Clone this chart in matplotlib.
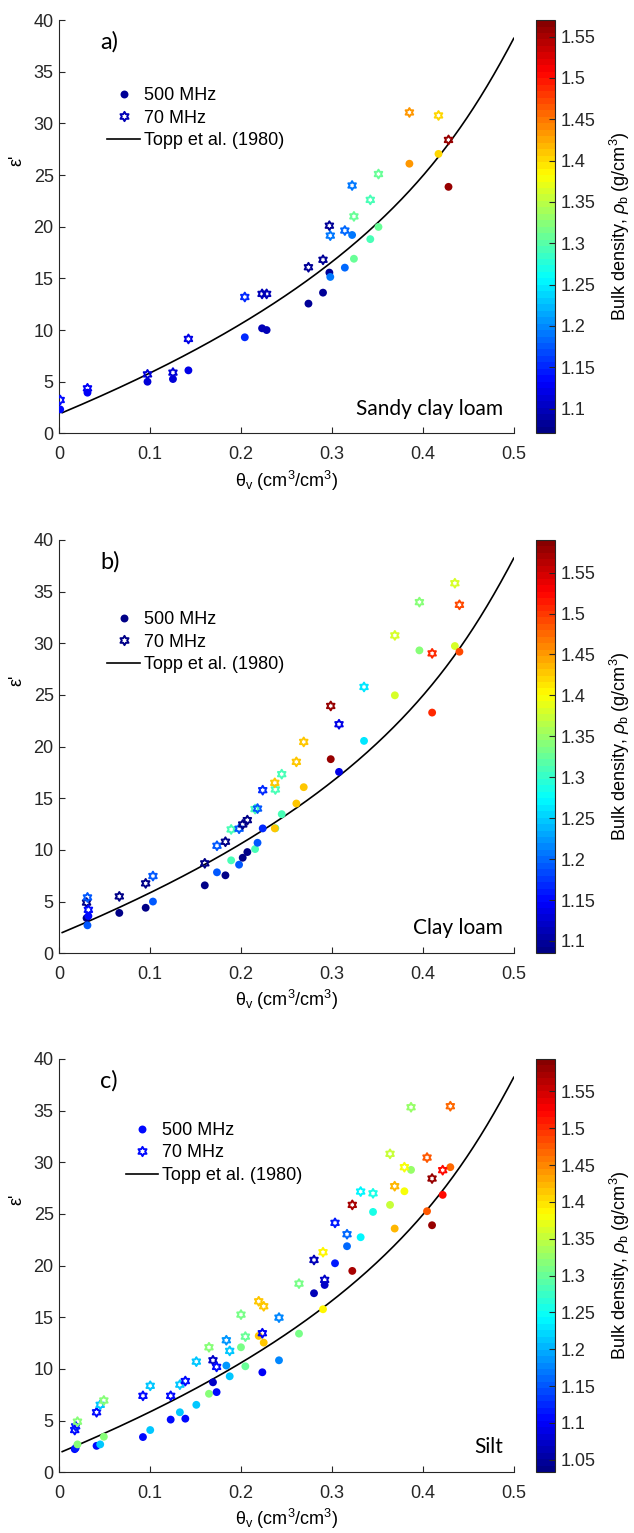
import numpy as np
import matplotlib
matplotlib.use('Agg')
import matplotlib.pyplot as plt
from matplotlib.path import Path
from matplotlib.lines import Line2D
from matplotlib.colors import Normalize, ListedColormap
from matplotlib.cm import ScalarMappable

plt.rcParams['font.family'] = ['Liberation Sans', 'DejaVu Sans']
plt.rcParams['mathtext.fontset'] = 'custom'
plt.rcParams['mathtext.rm'] = 'Liberation Sans'
plt.rcParams['mathtext.it'] = 'Liberation Sans:italic'

# ── a) Sandy clay loam ───────────────────────────────────────────────────────
a_theta  = [0.001, 0.031, 0.097, 0.125, 0.142, 0.204, 0.223, 0.228, 0.274, 0.290,
            0.297, 0.298, 0.314, 0.322, 0.324, 0.342, 0.351, 0.385, 0.417, 0.428]
a_eps500 = [2.32, 3.94, 5.00, 5.26, 6.10, 9.30, 10.17, 10.00, 12.56, 13.62,
            15.56, 15.14, 16.04, 19.20, 16.90, 18.80, 19.98, 26.10, 27.05, 23.86]
a_eps70  = [3.23, 4.36, 5.71, 5.88, 9.14, 13.20, 13.50, 13.50, 16.08, 16.80,
            20.10, 19.14, 19.63, 23.99, 21.00, 22.60, 25.10, 31.06, 30.77, 28.40]
a_rho    = [1.14, 1.13, 1.11, 1.11, 1.12, 1.15, 1.10, 1.10, 1.08, 1.085,
            1.085, 1.19, 1.18, 1.19, 1.31, 1.29, 1.31, 1.43, 1.40, 1.56]

# ── b) Clay loam ─────────────────────────────────────────────────────────────
b_theta  = [0.030, 0.031, 0.032, 0.066, 0.095, 0.103, 0.160, 0.1734, 0.1827, 0.189,
            0.1977, 0.2017, 0.2068, 0.2153, 0.218, 0.2237, 0.2376, 0.237, 0.2446, 0.2607,
            0.2688, 0.2985, 0.3076, 0.3351, 0.369, 0.396, 0.410, 0.435, 0.440]
b_eps500 = [3.4, 2.7, 3.6, 3.9, 4.4, 5.0, 6.57, 7.83, 7.54, 8.99,
            8.57, 9.24, 9.79, 10.08, 10.69, 12.08, 12.1, 12.08, 13.46, 14.49,
            16.07, 18.78, 17.55, 20.55, 24.96, 29.31, 23.29, 29.73, 29.18]
b_eps70  = [4.9, 5.4, 4.2, 5.5, 6.76, 7.47, 8.70, 10.40, 10.79, 11.98,
            12.05, 12.46, 12.88, 13.95, 14.00, 15.78, 15.85, 16.49, 17.33, 18.52,
            20.45, 23.93, 22.16, 25.77, 30.76, 33.98, 29.02, 35.81, 33.72]
b_rho    = [1.09, 1.19, 1.15, 1.09, 1.09, 1.19, 1.09, 1.19, 1.09, 1.31,
            1.19, 1.09, 1.09, 1.31, 1.19, 1.17, 1.31, 1.43, 1.31, 1.43,
            1.43, 1.58, 1.14, 1.26, 1.38, 1.34, 1.51, 1.38, 1.49]

# ── c) Silt ──────────────────────────────────────────────────────────────────
c_theta  = [0.017, 0.018, 0.020, 0.041, 0.045, 0.049, 0.092, 0.100, 0.1225, 0.1326,
            0.1386, 0.1507, 0.1646, 0.169, 0.173, 0.1837, 0.1874, 0.1998, 0.2046, 0.2193,
            0.2233, 0.2248, 0.2416, 0.2636, 0.2801, 0.2918, 0.290, 0.3032, 0.3164, 0.3222,
            0.3314, 0.345, 0.3637, 0.3688, 0.3795, 0.3868, 0.4044, 0.4099, 0.4216, 0.430]
c_eps500 = [2.24, 2.35, 2.70, 2.56, 2.70, 3.44, 3.41, 4.09, 5.10, 5.81,
            5.19, 6.53, 7.60, 8.71, 7.76, 10.33, 9.29, 12.10, 10.26, 13.20,
            9.68, 12.55, 10.84, 13.42, 17.33, 18.13, 15.78, 20.23, 21.88, 19.49,
            22.75, 25.20, 25.88, 23.59, 27.20, 29.27, 25.27, 23.91, 26.85, 29.53]
c_eps70  = [4.09, 4.45, 4.90, 5.81, 6.53, 6.95, 7.40, 8.37, 7.40, 8.48,
            8.83, 10.71, 12.10, 10.84, 10.20, 12.78, 11.75, 15.26, 13.13, 16.55,
            13.46, 16.07, 14.97, 18.26, 20.55, 18.62, 21.30, 24.14, 23.04, 25.88,
            27.17, 27.00, 30.82, 27.69, 29.53, 35.33, 30.46, 28.43, 29.24, 35.43]
c_rho    = [1.11, 1.12, 1.32, 1.11, 1.21, 1.32, 1.11, 1.21, 1.11, 1.21,
            1.11, 1.21, 1.32, 1.07, 1.11, 1.19, 1.21, 1.31, 1.30, 1.41,
            1.10, 1.41, 1.18, 1.31, 1.06, 1.07, 1.39, 1.12, 1.16, 1.57,
            1.24, 1.26, 1.35, 1.42, 1.38, 1.33, 1.48, 1.58, 1.52, 1.47]

panels = [
    dict(tag='a)', soil='Sandy clay loam', theta=a_theta, e500=a_eps500, e70=a_eps70,
         rho=a_rho, crange=(1.07, 1.57), cticks=[1.1, 1.15, 1.2, 1.25, 1.3, 1.35, 1.4, 1.45, 1.5, 1.55],
         leg_rho=(1.08, 1.10), leg_xy=(0.09, 0.855), bottom=0.7173),
    dict(tag='b)', soil='Clay loam', theta=b_theta, e500=b_eps500, e70=b_eps70,
         rho=b_rho, crange=(1.085, 1.59), cticks=[1.1, 1.15, 1.2, 1.25, 1.3, 1.35, 1.4, 1.45, 1.5, 1.55],
         leg_rho=(1.09, 1.09), leg_xy=(0.09, 0.845), bottom=0.3782),
    dict(tag='c)', soil='Silt', theta=c_theta, e500=c_eps500, e70=c_eps70,
         rho=c_rho, crange=(1.033, 1.594), cticks=[1.05, 1.1, 1.15, 1.2, 1.25, 1.3, 1.35, 1.4, 1.45, 1.5, 1.55],
         leg_rho=(1.11, 1.11), leg_xy=(0.13, 0.865), bottom=0.0396),
]

# Topp et al. (1980): theta = -5.3e-2 + 2.92e-2 e - 5.5e-4 e^2 + 4.3e-6 e^3
topp_eps = np.linspace(2.0, 38.6, 500)
topp_theta = -5.3e-2 + 2.92e-2 * topp_eps - 5.5e-4 * topp_eps**2 + 4.3e-6 * topp_eps**3
keep = topp_theta <= 0.5
topp_eps, topp_theta = topp_eps[keep], topp_theta[keep]

# six-pointed star (hexagram) marker
ang = np.deg2rad(90 + 30 * np.arange(12))
rad = np.where(np.arange(12) % 2 == 0, 1.0, 1 / np.sqrt(3))
hex_verts = np.column_stack([rad * np.cos(ang), rad * np.sin(ang)])
hex_verts = np.vstack([hex_verts, hex_verts[:1]])
HEXAGRAM = Path(hex_verts, [Path.MOVETO] + [Path.LINETO] * 11 + [Path.CLOSEPOLY])

# MATLAB-style jet, 64 levels
_x = (np.arange(64) + 0.5) / 64
_jet = np.column_stack([np.clip(1.5 - np.abs(4 * _x - 3), 0, 1),
                        np.clip(1.5 - np.abs(4 * _x - 2), 0, 1),
                        np.clip(1.5 - np.abs(4 * _x - 1), 0, 1)])
cmap = ListedColormap(_jet)
AX_COL = '#262626'

fig = plt.figure(figsize=(6.34, 15.33), dpi=100)

for p in panels:
    ax = fig.add_axes([0.0935, p['bottom'], 0.7172, 0.2696])
    norm = Normalize(*p['crange'])
    cols = cmap(norm(np.array(p['rho'])))

    ax.plot(topp_theta, topp_eps, color='k', lw=1.2, zorder=2)
    ax.scatter(p['theta'], p['e500'], s=32, c=cols, marker='o', linewidths=0, zorder=3)
    ax.scatter(p['theta'], p['e70'], s=40, facecolors='none', edgecolors=cols,
               marker=HEXAGRAM, linewidths=1.4, zorder=4)

    ax.set_xlim(0, 0.5)
    ax.set_ylim(0, 40)
    ax.set_xticks([0, 0.1, 0.2, 0.3, 0.4, 0.5])
    ax.set_xticklabels(['0', '0.1', '0.2', '0.3', '0.4', '0.5'])
    ax.set_yticks(range(0, 41, 5))
    for side in ['top', 'right']:
        ax.spines[side].set_visible(False)
    for side in ['left', 'bottom']:
        ax.spines[side].set_color(AX_COL)
        ax.spines[side].set_linewidth(0.8)
    ax.tick_params(direction='in', length=4.5, width=0.8, colors=AX_COL, labelsize=13)
    ax.tick_params(axis='x', pad=9)
    ax.tick_params(axis='y', pad=4)
    ax.set_xlabel('θ$_\\mathregular{v}$ (cm$^\\mathregular{3}$/cm$^\\mathregular{3}$)', fontsize=13)
    ax.set_ylabel("ε'", fontsize=13)
    ax.yaxis.set_label_coords(-0.075, 0.66)

    ax.text(0.045, 37.9, p['tag'], fontsize=17, family='Lato', va='center', ha='left')
    ax.text(0.488, 2.4, p['soil'], fontsize=15, family='Lato', va='center', ha='right')

    handles = [
        Line2D([], [], ls='none', marker='o', markersize=5.7, markeredgewidth=0,
               color=cmap(norm(p['leg_rho'][0]))),
        Line2D([], [], ls='none', marker=HEXAGRAM, markersize=6.7, markerfacecolor='none',
               markeredgewidth=1.4, markeredgecolor=cmap(norm(p['leg_rho'][1]))),
        Line2D([], [], color='k', lw=1.2),
    ]
    ax.legend(handles, ['500 MHz', '70 MHz', 'Topp et al. (1980)'], loc='upper left',
              bbox_to_anchor=p['leg_xy'], frameon=False, fontsize=13, handlelength=1.8,
              handletextpad=0.2, labelspacing=0.3, borderaxespad=0)

    cax = fig.add_axes([0.8454, p['bottom'], 0.030, 0.2696])
    sm = ScalarMappable(norm=norm, cmap=cmap)
    cb = fig.colorbar(sm, cax=cax)
    cb.set_ticks(p['cticks'])
    cb.set_ticklabels(['%g' % t for t in p['cticks']])
    cb.outline.set_edgecolor(AX_COL)
    cb.outline.set_linewidth(0.8)
    cax.tick_params(direction='in', length=4, width=0.8, colors=AX_COL, labelsize=13, pad=4)
    cb.set_label('Bulk density, $\\rho_\\mathregular{b}$ (g/cm$^\\mathregular{3}$)', fontsize=13,
                 labelpad=9)

fig.savefig('out.png', dpi=100)
